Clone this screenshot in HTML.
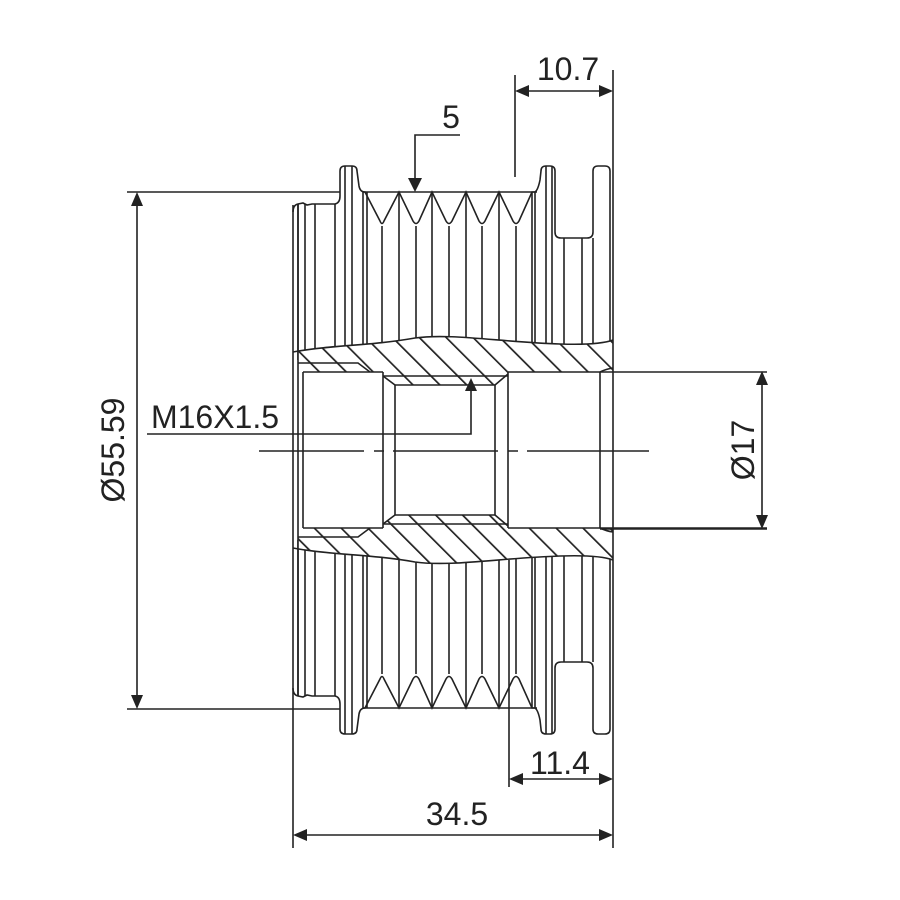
<!DOCTYPE html>
<html><head><meta charset="utf-8"><style>html,body{margin:0;padding:0;background:#fff}svg{display:block}</style></head>
<body>
<svg width="900" height="900" viewBox="0 0 900 900" xmlns="http://www.w3.org/2000/svg">
<defs>
<pattern id="h" patternUnits="userSpaceOnUse" width="19" height="19" patternTransform="rotate(-45)">
<rect x="0" y="0" width="1.7" height="19" fill="#222"/>
</pattern>
<g id="half" fill="none" stroke="#222" stroke-width="1.6">
<path d="M293,212 Q293,205 298,204 L303,203 L307,205 L312,204 L335,204 Q340,203 340,196 L340,171 Q340,166 345,166 L352,166 Q357,166 357,171 L359,186 Q360,192 365,192 L380,221 Q382,226 384,221 L399,192 L413,221 Q416,226 419,221 L432,192 L446,221 Q449,226 452,221 L466,192 L479,221 Q482,226 485,221 L499,192 L513,221 Q516,226 519,221 L532,192 L535,192 Q538,190 540,180 L541,171 Q541,166 546,166 L550,166 Q555,166 555,171 L555,232 Q555,238 561,238 L587,238 Q593,238 593,232 L593,171 Q593,166 598,166 L605,166 Q610,166 610,171 L610,350"/>
<line x1="363" y1="192" x2="537" y2="192"/>
<path d="M298,204V360 M305,204V360 M315,204V360 M335,204V360 M345,166V360 M352,166V360 M363,192V360 M367,192V360
M382,226V360 M399,192V360 M416,226V360 M432,192V360 M449,226V360 M466,192V360 M482,226V360 M499,192V360 M516,226V360 M532,192V360 M535,192V360
M546,166V360 M552,166V360 M564,238V360 M582,238V360 M593,238V360"/>
</g>
<g id="bore" fill="none" stroke="#222" stroke-width="1.6">
<path d="M298,363 L358,363 L370,372"/>
<line x1="303" y1="372" x2="383" y2="372"/>
<line x1="383" y1="376" x2="508" y2="376"/>
<line x1="383" y1="376" x2="395" y2="385"/>
<line x1="508" y1="374" x2="495" y2="385"/>
<line x1="395" y1="385" x2="495" y2="385"/>
<line x1="508" y1="372" x2="767" y2="372"/>
<path d="M600,372 Q606,369 613,368"/>
</g>
<path id="hp" d="M293,352 C330,345 370,346 415,338 C450,333 500,342 560,344 C590,345 605,343 613,340 L613,372 L508,372 L496,385 L395,385 L383,376 L383,372 L298,372 L298,352 Z"/>
<clipPath id="ct"><use href="#hp"/></clipPath>
<clipPath id="cb"><use href="#hp" transform="matrix(1,0,0,-1,0,900)"/></clipPath>
</defs>

<use href="#half"/>
<use href="#half" transform="matrix(1,0,0,-1,0,900)"/>

<use href="#hp" fill="#fff"/>
<use href="#hp" fill="#fff" transform="matrix(1,0,0,-1,0,900)"/>
<rect x="280" y="320" width="340" height="80" fill="url(#h)" clip-path="url(#ct)"/>
<rect x="280" y="500" width="340" height="80" fill="url(#h)" clip-path="url(#cb)"/>
<path d="M293,352 C330,345 370,346 415,338 C450,333 500,342 560,344 C590,345 605,343 613,340" fill="none" stroke="#222" stroke-width="1.6"/>
<path d="M293,352 C330,345 370,346 415,338 C450,333 500,342 560,344 C590,345 605,343 613,340" fill="none" stroke="#222" stroke-width="1.6" transform="matrix(1,0,0,-1,0,900)"/>

<use href="#bore"/>
<use href="#bore" transform="matrix(1,0,0,-1,0,900)"/>

<g stroke="#222" stroke-width="1.6" fill="none">
<line x1="293" y1="205" x2="293" y2="848"/>
<line x1="298" y1="204" x2="298" y2="696"/>
<line x1="303" y1="372" x2="303" y2="528"/>
<line x1="383" y1="372" x2="383" y2="528"/>
<line x1="395" y1="385" x2="395" y2="515"/>
<line x1="495" y1="385" x2="495" y2="515"/>
<line x1="508" y1="372" x2="508" y2="528"/>
<line x1="600" y1="372" x2="600" y2="528"/>
<line x1="613" y1="70" x2="613" y2="848"/>
<path d="M259,451H364 M374,451H384 M393,451H498 M508,451H518 M527,451H649"/>
<line x1="127" y1="192" x2="340" y2="192"/>
<line x1="127" y1="709" x2="340" y2="709"/>
<line x1="137" y1="200" x2="137" y2="701"/>
<line x1="515" y1="75" x2="515" y2="177"/>
<line x1="525" y1="91" x2="605" y2="91"/>
<path d="M460,135H415V180"/>
<path d="M147,434H471V390"/>
<line x1="600" y1="529" x2="767" y2="529"/>
<line x1="762" y1="381" x2="762" y2="519"/>
<line x1="509" y1="560" x2="509" y2="787"/>
<line x1="519" y1="779" x2="604" y2="779"/>
<line x1="303" y1="835" x2="604" y2="835"/>
</g>
<g fill="#222">
<path d="M137,192 L131,206 L143,206 Z"/>
<path d="M137,709 L131,695 L143,695 Z"/>
<path d="M515,91 L529,85 L529,97 Z"/>
<path d="M613,91 L599,85 L599,97 Z"/>
<path d="M415,192 L408,178 L422,178 Z"/>
<path d="M471,378 L465,391 L477,391 Z"/>
<path d="M762,371 L756,385 L768,385 Z"/>
<path d="M762,529 L756,515 L768,515 Z"/>
<path d="M509,779 L523,773 L523,785 Z"/>
<path d="M613,779 L599,773 L599,785 Z"/>
<path d="M293,835 L307,829 L307,841 Z"/>
<path d="M613,835 L599,829 L599,841 Z"/>
</g>
<g font-family="Liberation Sans, sans-serif" font-size="32" fill="#222" text-anchor="middle">
<text x="568" y="80">10.7</text>
<text x="451" y="128">5</text>
<text x="215" y="428">M16X1.5</text>
<text x="560" y="774">11.4</text>
<text x="457" y="825">34.5</text>
<text transform="translate(124,450) rotate(-90)">Ø55.59</text>
<text transform="translate(754,450) rotate(-90)">Ø17</text>
</g>
</svg>
</body></html>
